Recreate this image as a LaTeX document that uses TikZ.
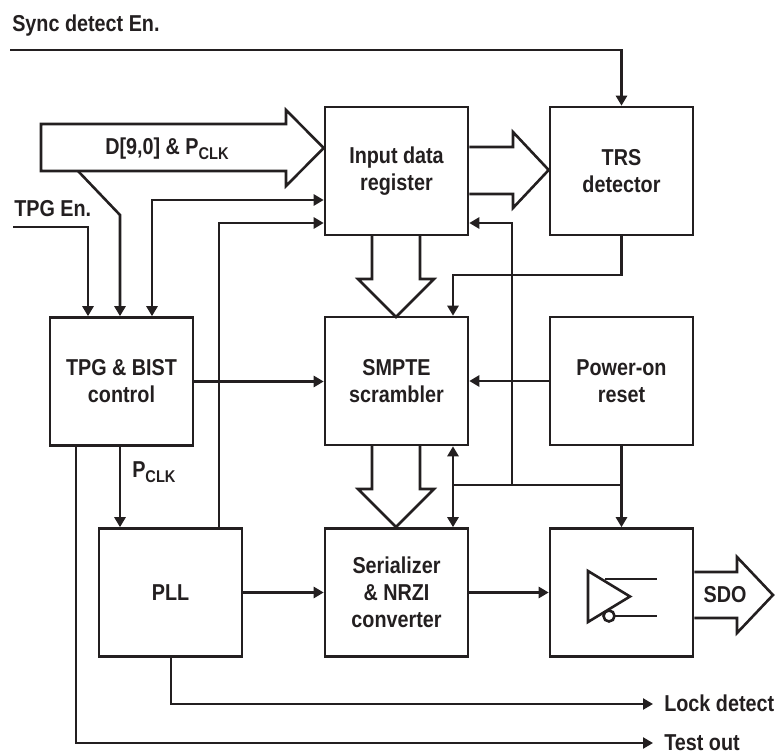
\documentclass[tikz,border=0pt]{standalone}
\usepackage{fontspec}
\setmainfont{Liberation Sans}[FakeStretch=0.86]
\usetikzlibrary{arrows.meta,calc}
\definecolor{ink}{RGB}{35,31,32}
\newcommand\pclk{P\raisebox{-5pt}{\fontsize{17}{17}\selectfont CLK}}
\begin{document}
\begin{tikzpicture}[x=1pt,y=-1pt, line width=2.6pt, ink,
  every node/.style={font=\fontsize{23}{27}\selectfont\bfseries, text=ink},
  blk/.style={draw=ink, minimum width=143pt, minimum height=128pt, inner sep=0pt, align=center},
  arr/.style={-{Triangle[length=10pt,width=11pt]}},
  barr/.style={{Triangle[length=10pt,width=11pt]}-{Triangle[length=10pt,width=11pt]}},
  hollow/.style={draw=ink, line join=miter}]
\useasboundingbox (0,0) rectangle (780,754);

% blocks
\node[blk] (inreg) at (396.5,171) {Input data\\register};
\node[blk] (trs) at (621.5,171) {TRS\\detector};
\node[blk] (tpg) at (121.5,381.5) {TPG \& BIST\\control};
\node[blk] (smpte) at (396.5,381) {SMPTE\\scrambler};
\node[blk] (por) at (621.5,381) {Power-on\\reset};
\node[blk] (pll) at (170.5,592.5) {PLL};
\node[blk] (ser) at (396.5,592.5) {Serializer\\\& NRZI\\converter};
\node[blk] (outb) at (621.5,592.5) {};

% Sync detect
\node[anchor=base west, inner sep=0pt] (synclbl) at (11,32) {Sync detect En.};
\coordinate (syncin) at (10,50);
\draw[arr] (syncin) -| (trs.north);

% D[9,0] bus arrow
\draw[hollow] (41,124) -- (286,124) -- (286,110) -- (inreg.west |- 0,148) -- (286,186) -- (286,171) -- (41,171) -- cycle;
\node[anchor=base] (dlbl) at (167,155) {D[9,0] \& \pclk};
\coordinate (dtap) at (78,171);
\coordinate (dbend) at (120,215);
\draw[arr] (dtap) -- (dbend) -- (dbend |- tpg.north);

% TPG En.
\node[anchor=base west, inner sep=0pt] (tpglbl) at (13,217) {TPG En.};
\coordinate (tpgin) at (13,227);
\coordinate (tpgbend) at (88,227);
\draw[arr] (tpgin) -- (tpgbend) -- (tpgbend |- tpg.north);

% TPG <-> input register
\coordinate (bd) at (152,200);
\draw[barr] (bd |- tpg.north) -- (bd) -- (bd -| inreg.west);

% PLL -> input register
\coordinate (pllup) at (219,223);
\draw[arr] (pllup |- pll.north) -- (pllup) -- (pllup -| inreg.west);

% input register => TRS
\draw[hollow] (inreg.east |- 0,147) -- (513,147) -- (513,132) -- (trs.west |- 0,170) -- (513,208) -- (513,194) -- (inreg.east |- 0,194);

% TRS -> SMPTE
\coordinate (tsb) at (453,275);
\draw[arr] (trs.south) |- (tsb) -- (tsb |- smpte.north);

% input register => SMPTE
\draw[hollow] (372,235) -- (372,279) -- (358,279) -- (396,317) -- (434,279) -- (420,279) -- (420,235);

% TPG -> SMPTE, POR -> SMPTE
\draw[arr] (tpg.east) -- (tpg.east -| smpte.west);
\draw[arr] (por.west) -- (smpte.east);

% SMPTE => serializer
\draw[hollow] (372,445) -- (372,489) -- (358,489) -- (396,527) -- (434,489) -- (420,489) -- (420,445);

% reset distribution
\coordinate (bx) at (453,485);
\draw[barr] (bx |- smpte.south) -- (bx |- ser.north);
\draw (bx) -- (bx -| por.south);
\draw[arr] (por.south) -- (outb.north);
\coordinate (rx) at (512,485);
\coordinate (rtop) at (512,223);
\draw[arr] (rx) -- (rtop) -- (rtop -| inreg.east);

% serial path
\draw[arr] (pll.east) -- (ser.west);
\draw[arr] (ser.east) -- (outb.west);

% PCLK
\coordinate (pc) at (120,0);
\draw[arr] (tpg.south -| pc) -- (pll.north -| pc);
\node[anchor=base west, inner sep=0pt] (pclbl) at (131,477) {\pclk};

% Lock detect / Test out
\coordinate (lk) at (171,704);
\coordinate (lkend) at (653,704);
\draw[arr] (lk |- pll.south) -- (lk) -- (lkend);
\node[anchor=west, inner sep=0pt] (lklbl) at (663,703) {Lock detect};
\coordinate (ts) at (76,743);
\coordinate (tsend) at (653,743);
\draw[arr] (ts |- tpg.south) -- (ts) -- (tsend);
\node[anchor=base west, inner sep=0pt] (tslbl) at (663,750) {Test out};

% buffer symbol
\draw[line join=miter] (588,571) -- (588,622) -- (630,596.5) -- cycle;
\draw (605,579) -- (657,579);
\draw (609,616) circle (5.5);
\draw (614.5,616) -- (657,616);

% SDO
\draw[hollow] (outb.east |- 0,572) -- (737,572) -- (737,557) -- (773,595) -- (737,633) -- (737,618) -- (outb.east |- 0,618);
\node (sdo) at (725,595) {SDO};
\end{tikzpicture}
\end{document}
